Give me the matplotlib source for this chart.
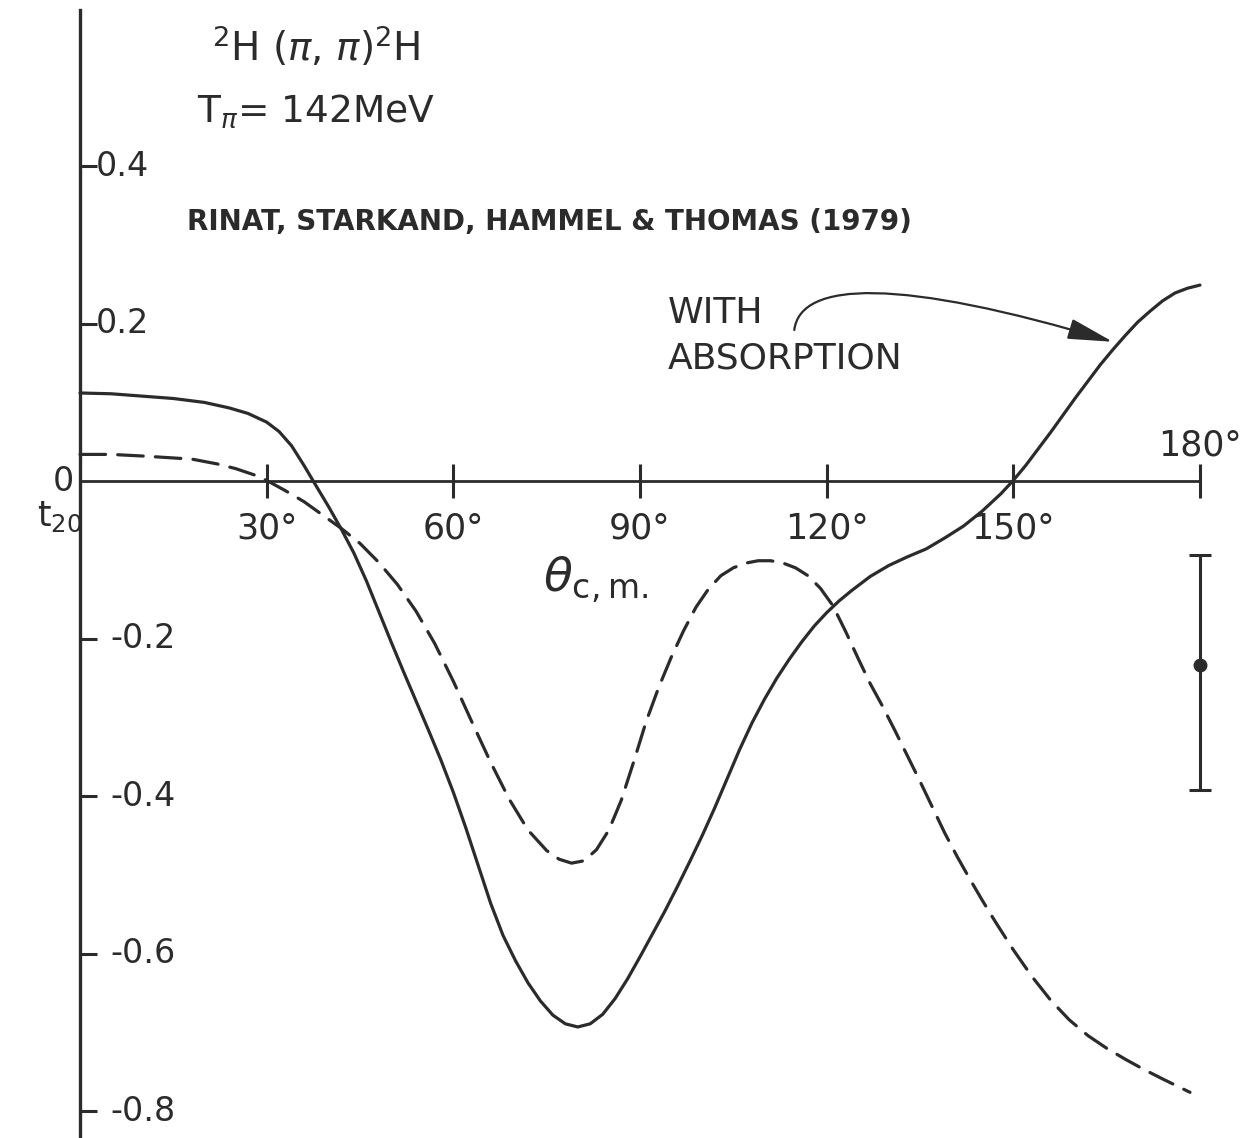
import matplotlib
matplotlib.use('Agg')
import matplotlib.pyplot as plt
from matplotlib.patches import FancyArrowPatch
from matplotlib.path import Path

# curve with absorption (solid)
theta_abs = [0, 5, 10, 15, 20, 24, 27, 30, 32, 34, 36, 37.5, 40, 42, 44, 46, 48, 50,
             52, 54, 56, 58, 60, 62, 64, 66, 68, 70, 72, 74, 76, 78, 80, 82, 84, 86,
             88, 90, 92, 94, 96, 98, 100, 102, 104, 106, 108, 110, 112, 114, 116,
             118, 120, 122, 124, 127, 130, 133, 136, 139, 142, 145, 148, 150, 152,
             154, 156, 158, 160, 162, 164, 166, 168, 170, 172, 174, 176, 178, 180]
t20_abs = [0.112, 0.111, 0.108, 0.105, 0.100, 0.093, 0.086, 0.075, 0.063, 0.045,
           0.020, 0.000, -0.033, -0.061, -0.091, -0.126, -0.165, -0.204, -0.242,
           -0.279, -0.316, -0.354, -0.395, -0.440, -0.488, -0.536, -0.577, -0.609,
           -0.637, -0.660, -0.678, -0.689, -0.693, -0.689, -0.677, -0.657, -0.632,
           -0.604, -0.575, -0.546, -0.515, -0.483, -0.450, -0.415, -0.378, -0.341,
           -0.307, -0.277, -0.250, -0.226, -0.204, -0.184, -0.167, -0.152, -0.139,
           -0.121, -0.107, -0.096, -0.086, -0.072, -0.057, -0.038, -0.016, 0.001,
           0.020, 0.041, 0.062, 0.084, 0.106, 0.127, 0.148, 0.167, 0.185, 0.202,
           0.216, 0.229, 0.239, 0.245, 0.249]

# curve without absorption (dashed)
theta_noabs = [0, 5, 10, 14, 18, 22, 25, 28, 30, 33, 36, 39, 42, 45, 48, 51, 54, 57,
               60, 63, 66, 69, 72, 75, 77, 79, 81, 83, 85, 87, 89, 91, 93, 95, 97, 99,
               101, 103, 105, 107, 109, 111, 113, 115, 117, 119, 121, 123, 125, 127,
               129, 131, 133, 135, 137, 139, 141, 143, 145, 147, 150, 153, 156, 159,
               162, 165, 168, 171, 174, 178.4]
t20_noabs = [0.034, 0.034, 0.032, 0.030, 0.028, 0.022, 0.016, 0.008, 0.001, -0.012,
             -0.026, -0.043, -0.060, -0.079, -0.103, -0.131, -0.165, -0.206, -0.254,
             -0.306, -0.357, -0.404, -0.443, -0.469, -0.480, -0.485, -0.482, -0.468,
             -0.443, -0.405, -0.356, -0.305, -0.262, -0.224, -0.190, -0.160, -0.137,
             -0.120, -0.110, -0.104, -0.101, -0.101, -0.104, -0.110, -0.120, -0.136,
             -0.158, -0.190, -0.224, -0.257, -0.286, -0.317, -0.349, -0.381, -0.414,
             -0.447, -0.477, -0.505, -0.532, -0.558, -0.595, -0.629, -0.659, -0.684,
             -0.704, -0.720, -0.734, -0.747, -0.759, -0.776]

# measured point
theta_exp = [180]
t20_exp = [-0.234]
err_lo = [0.158]
err_hi = [0.140]

xticks = [30, 60, 90, 120, 150, 180]
xlabels = ['30°', '60°', '90°', '120°', '150°', '180°']
yticks = [0.4, 0.2, -0.2, -0.4, -0.6, -0.8]
ylabels = ['0.4', '0.2', '-0.2', '-0.4', '-0.6', '-0.8']

ink = '#2b2b2b'
plt.rcParams['font.family'] = ['DejaVu Sans']

fig = plt.figure(figsize=(12.44, 11.38), dpi=100)
ax = fig.add_axes([0, 0, 1, 1])
ax.set_xlim(-12.86, 187.08)
ax.set_ylim(-0.834, 0.611)

for s in ['top', 'right']:
    ax.spines[s].set_visible(False)
ax.spines['left'].set_position(('data', 0))
ax.spines['left'].set_bounds(-0.834, 0.598)
ax.spines['bottom'].set_position(('data', 0))
ax.spines['bottom'].set_bounds(0, 180)
ax.spines['left'].set_linewidth(2.4)
ax.spines['bottom'].set_linewidth(2.0)
ax.spines['left'].set_color(ink)
ax.spines['bottom'].set_color(ink)

ax.set_xticks(xticks)
ax.set_yticks(yticks)
ax.tick_params(axis='x', direction='inout', length=24, width=2.2, color=ink,
               labelbottom=False)
ax.tick_params(axis='y', direction='in', length=12, width=2.2, color=ink,
               labelleft=False)

# tick labels
for x, lab in zip(xticks, xlabels):
    if x == 180:
        ax.text(x, 0.024, lab, ha='center', va='bottom', fontsize=25, color=ink)
    else:
        ax.text(x, -0.038, lab, ha='center', va='top', fontsize=25, color=ink)
for y, lab in zip(yticks, ylabels):
    xpos = 2.6 if y > 0 else 4.9
    ax.text(xpos, y, lab, ha='left', va='center', fontsize=24, color=ink)
ax.text(-2.7, 0.0, '0', ha='center', va='center', fontsize=24, color=ink)
ax.text(-3.3, -0.045, r'$\mathregular{t_{20}}$', ha='center', va='center',
        fontsize=25, color=ink)

# curves
ax.plot(theta_abs, t20_abs, color=ink, lw=2.3, solid_capstyle='round',
        solid_joinstyle='round')
ax.plot(theta_noabs, t20_noabs, color=ink, lw=2.3, linestyle=(0, (8, 3.8)),
        dash_capstyle='round', dash_joinstyle='round')
ax.errorbar(theta_exp, t20_exp, yerr=[err_lo, err_hi], fmt='o', color=ink,
            ms=9, elinewidth=2.2, capsize=8, capthick=2.2)

# annotations
ax.text(38.0, 0.552, r'$\mathregular{^2}$H ($\pi$, $\pi$)$\mathregular{^2}$H',
        ha='center', va='center', fontsize=28, color=ink)
ax.text(38.0, 0.470, r'T$_\pi$= 142MeV', ha='center', va='center',
        fontsize=27, color=ink)
ax.text(17.2, 0.329, 'RINAT, STARKAND, HAMMEL & THOMAS (1979)', ha='left',
        va='center', fontsize=20, fontweight='bold', color=ink)
ax.text(94.5, 0.213, 'WITH', ha='left', va='center', fontsize=26, color=ink)
ax.text(94.5, 0.156, 'ABSORPTION', ha='left', va='center', fontsize=26, color=ink)
ax.text(82.8, -0.125, r'$\theta_{\mathregular{c,m.}}$', ha='center', va='center',
        fontsize=34, color=ink)

verts = [(114.8, 0.192), (115.8, 0.255), (131.8, 0.258), (166.0, 0.177)]
codes = [Path.MOVETO, Path.CURVE4, Path.CURVE4, Path.CURVE4]
arrow = FancyArrowPatch(path=Path(verts, codes),
                        arrowstyle='-|>,head_length=1.4,head_width=0.32',
                        mutation_scale=20, color=ink, lw=1.6)
ax.add_patch(arrow)

fig.savefig('out.png', dpi=100, facecolor='white')
